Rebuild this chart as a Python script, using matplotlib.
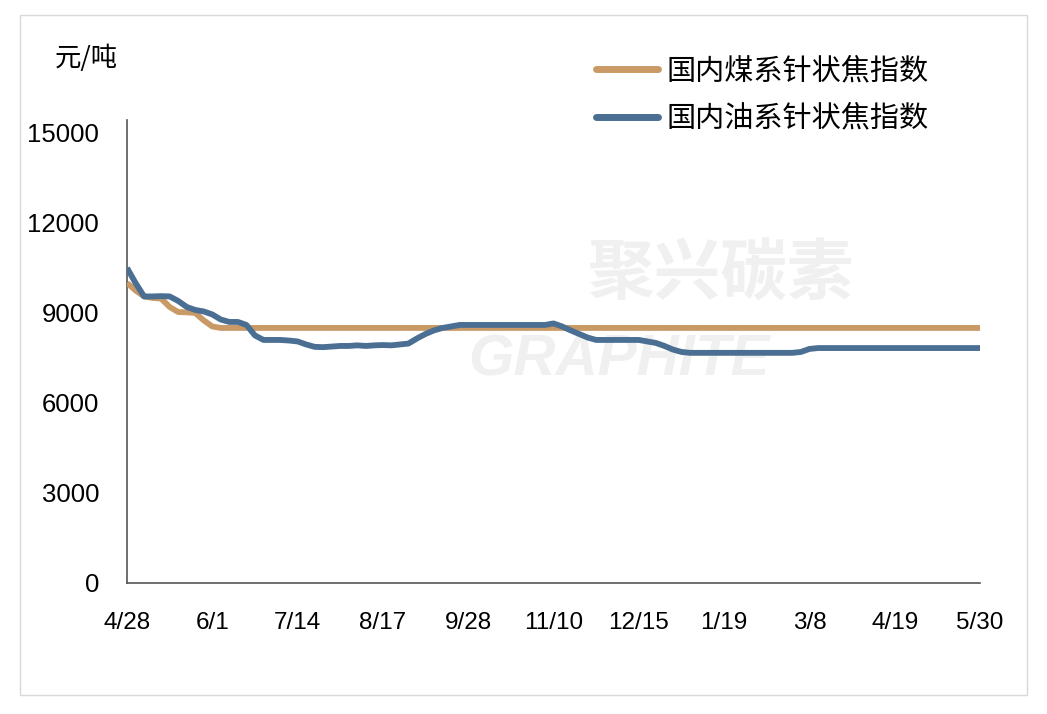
import matplotlib
matplotlib.use("Agg")
import matplotlib.pyplot as plt
from matplotlib import font_manager
from matplotlib.patches import Rectangle

plt.rcParams['font.family'] = ['Liberation Sans', 'Noto Sans CJK SC', 'DejaVu Sans']

# category labels shown on the x axis (one every 10 points)
tick_labels = ["4/28", "6/1", "7/14", "8/17", "9/28", "11/10", "12/15",
               "1/19", "3/8", "4/19", "5/30"]

# 国内煤系针状焦指数 (元/吨)
coal = [10000, 9750, 9550, 9500, 9480, 9200, 9030, 9020, 9000, 8750,
        8550, 8500, 8500, 8500, 8500, 8500, 8500, 8500, 8500, 8500,
        8500, 8500, 8500, 8500, 8500, 8500, 8500, 8500, 8500, 8500,
        8500, 8500, 8500, 8500, 8500, 8500, 8500, 8500, 8500, 8500,
        8500, 8500, 8500, 8500, 8500, 8500, 8500, 8500, 8500, 8500,
        8500, 8500, 8500, 8500, 8500, 8500, 8500, 8500, 8500, 8500,
        8500, 8500, 8500, 8500, 8500, 8500, 8500, 8500, 8500, 8500,
        8500, 8500, 8500, 8500, 8500, 8500, 8500, 8500, 8500, 8500,
        8500, 8500, 8500, 8500, 8500, 8500, 8500, 8500, 8500, 8500,
        8500, 8500, 8500, 8500, 8500, 8500, 8500, 8500, 8500, 8500,
        8500]

# 国内油系针状焦指数 (元/吨)
oil = [10500, 10000, 9550, 9550, 9560, 9550, 9400, 9200, 9100, 9050,
       8950, 8780, 8700, 8700, 8600, 8250, 8100, 8100, 8100, 8080,
       8050, 7950, 7870, 7860, 7880, 7900, 7900, 7920, 7900, 7920,
       7930, 7920, 7950, 7980, 8150, 8300, 8420, 8500, 8550, 8600,
       8600, 8600, 8600, 8600, 8600, 8600, 8600, 8600, 8600, 8600,
       8650, 8550, 8420, 8300, 8180, 8100, 8100, 8100, 8100, 8100,
       8100, 8050, 8000, 7900, 7780, 7700, 7670, 7670, 7670, 7670,
       7670, 7670, 7670, 7670, 7670, 7670, 7670, 7670, 7670, 7700,
       7800, 7830, 7830, 7830, 7830, 7830, 7830, 7830, 7830, 7830,
       7830, 7830, 7830, 7830, 7830, 7830, 7830, 7830, 7830, 7830,
       7830]

yticks = [0, 3000, 6000, 9000, 12000, 15000]

names = {f.name for f in font_manager.fontManager.ttflist}
xfont = 'Liberation Sans Narrow' if 'Liberation Sans Narrow' in names else 'Liberation Sans'

fig = plt.figure(figsize=(10.47, 7.14), dpi=100)
fig.patches.append(Rectangle((20 / 1047, 1 - 695 / 714), 1007 / 1047, 680 / 714,
                             transform=fig.transFigure, fill=False,
                             edgecolor="#d9d9d9", linewidth=1))
ax = fig.add_axes([127 / 1047, 1 - 583 / 714, (980 - 127) / 1047, (583 - 120) / 714])

# faint watermark
ax.text(0.54, 0.665, "聚兴碳素", transform=ax.transAxes, fontsize=48,
        color="#f0f0f0", fontweight="bold", family=['Noto Sans CJK SC'],
        ha="left", va="center", zorder=0)
ax.text(0.40, 0.48, "GRAPHITE", transform=ax.transAxes, fontsize=42,
        color="#f0f0f0", fontweight="bold", style="italic",
        ha="left", va="center", zorder=0)

x = list(range(len(coal)))
ax.plot(x, coal, color="#c99a66", linewidth=4.2, label="国内煤系针状焦指数",
        solid_capstyle="butt", zorder=3)
ax.plot(x, oil, color="#4a6f93", linewidth=4.2, label="国内油系针状焦指数",
        solid_capstyle="butt", zorder=4)

ax.set_xlim(0, len(coal) - 1)
ax.set_ylim(0, 15430)
ax.set_yticks(yticks)
ax.set_yticklabels([str(v) for v in yticks], fontsize=18.5)
ax.set_xticks(range(0, len(coal), 10))
ax.set_xticklabels(tick_labels, fontsize=17.5, family=[xfont])
ax.tick_params(length=0)
ax.tick_params(axis="y", pad=20)
ax.tick_params(axis="x", pad=21)
for s in ["top", "right"]:
    ax.spines[s].set_visible(False)
for s in ["left", "bottom"]:
    ax.spines[s].set_color("#555555")
    ax.spines[s].set_linewidth(1.2)

fig.text(55 / 1047, 1 - 58 / 714, "元/吨", fontsize=19, va="center", ha="left",
         family=['Noto Sans CJK SC', 'DejaVu Sans'])

leg = ax.legend(loc="upper left", bbox_to_anchor=(570 / 1047, 1 - 30 / 714),
                bbox_transform=fig.transFigure, frameon=False,
                prop={'family': 'Noto Sans CJK SC', 'size': 21},
                handlelength=2.1, handletextpad=0.3, labelspacing=0.6)
for line in leg.get_lines():
    line.set_linewidth(5)
    line.set_solid_capstyle("round")

fig.savefig("out.png", dpi=100, facecolor="white")
